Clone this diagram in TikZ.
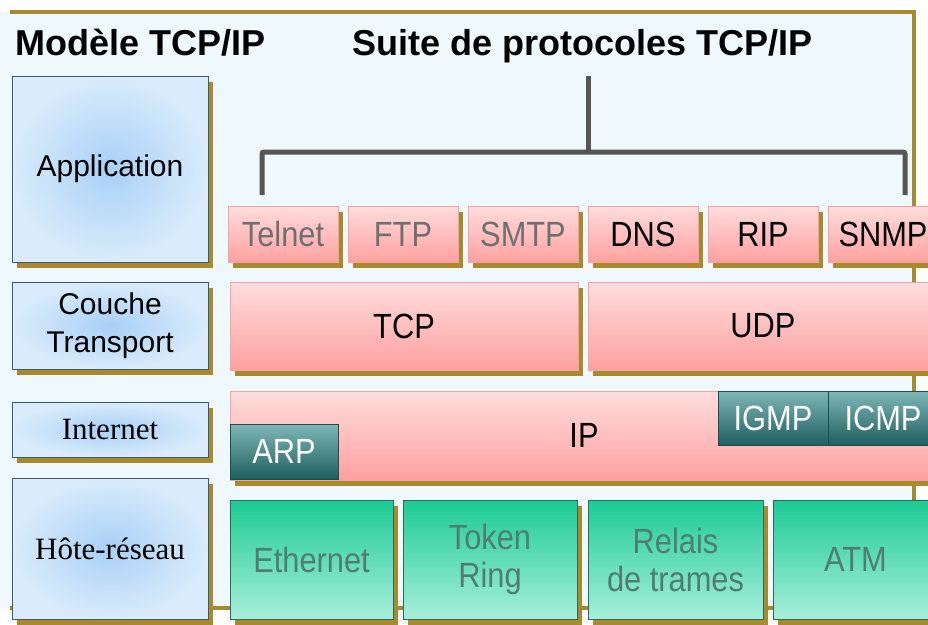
\documentclass[tikz,border=0pt]{standalone}
\usepackage{fontspec}
\setmainfont{Liberation Sans}
\newfontfamily\boxfont{Liberation Sans}[FakeStretch=0.88]
\newfontfamily\romanfont{Liberation Serif}
\usetikzlibrary{shadows}

\definecolor{framegold}{HTML}{A68A30}
\definecolor{shadowgold}{HTML}{A88A2C}
\definecolor{paneback}{HTML}{EFF8FC}
\definecolor{layerline}{HTML}{3D5A75}
\definecolor{layerin}{HTML}{A8D0F7}
\definecolor{layerout}{HTML}{DAECFB}
\definecolor{pinktop}{HTML}{FFDDDD}
\definecolor{pinkbot}{HTML}{FFA0A0}
\definecolor{pinkline}{HTML}{EFA5A5}
\definecolor{tealtop}{HTML}{80B7B7}
\definecolor{tealbot}{HTML}{1E5F5F}
\definecolor{tealline}{HTML}{1B4E4E}
\definecolor{greentop}{HTML}{1CCB94}
\definecolor{greenbot}{HTML}{A8EFDB}
\definecolor{greenline}{HTML}{2B6B5D}
\definecolor{greentext}{HTML}{4F7D72}
\definecolor{fadedtext}{HTML}{6F6F6F}
\definecolor{bracketgray}{HTML}{555555}

\tikzset{
  shadowed/.style={general shadow={fill=shadowgold, shadow xshift=5pt, shadow yshift=-6pt}},
  dims/.style 2 args={minimum width=#1pt, minimum height=#2pt, inner sep=0pt},
  layer/.style={shadowed, draw=layerline, line width=1pt, inner color=layerin, outer color=layerout,
    align=center, font=\fontsize{30}{38}\selectfont},
  proto/.style={shadowed, draw=pinkline, line width=0.8pt, top color=pinktop, bottom color=pinkbot,
    font=\boxfont\fontsize{35}{38}\selectfont},
  aux/.style={draw=tealline, line width=0.8pt, top color=tealtop, bottom color=tealbot, text=white,
    font=\boxfont\fontsize{35}{38}\selectfont},
  link/.style={shadowed, draw=greenline, line width=1pt, top color=greentop, bottom color=greenbot,
    text=greentext, align=center, font=\boxfont\fontsize{35}{38}\selectfont},
  heading/.style={anchor=base west, inner sep=0pt, font=\bfseries\fontsize{36}{40}\selectfont},
  bracket/.style={draw=bracketgray, line width=5pt, rounded corners=2pt},
}

\begin{document}
\begin{tikzpicture}[x=1pt, y=-1pt]
  \clip (0,0) rectangle (928,624);
  \fill[white] (0,0) rectangle (928,624);
  \fill[paneback] (0,12) rectangle (914,608);
  \draw[framegold, line width=4pt] (10,12) -- (914,12) -- (914,608) -- (10,608);

  % titres
  \node[heading] (modele) at (15,55) {Modèle TCP/IP};
  \node[heading] (suite) at (352,55) {Suite de protocoles TCP/IP};

  % couches du modele
  \node[layer, dims={196}{186}] (app) at (110,169) {Application};
  \node[layer, dims={196}{87}] (transp) at (110,325.5) {Couche\\Transport};
  \node[layer, dims={196}{55}, font=\romanfont\fontsize{31}{36}\selectfont] (inet) at (110,429.5) {Internet};
  \node[layer, dims={196}{141}, font=\romanfont\fontsize{31}{36}\selectfont] (host) at (110,548.5) {Hôte-réseau};

  % accolade
  \coordinate (stem) at (588,76);
  \coordinate (bar) at (588,152);
  \coordinate (bl) at (262,195);
  \coordinate (br) at (905,195);
  \draw[bracket] (stem) -- (bar);
  \draw[bracket] (bl) |- (bar) -| (br);

  % application
  \node[proto, dims={110}{56}, text=fadedtext] (telnet) at (283,234) {Telnet};
  \node[proto, dims={110}{56}, text=fadedtext] (ftp) at (403,234) {FTP};
  \node[proto, dims={110}{56}, text=fadedtext] (smtp) at (523,234) {SMTP};
  \node[proto, dims={110}{56}] (dns) at (643,234) {DNS};
  \node[proto, dims={110}{56}] (rip) at (763,234) {RIP};
  \node[proto, dims={110}{56}] (snmp) at (883,234) {SNMP};

  % transport
  \node[proto, dims={348}{88}] (tcp) at (404,326) {TCP};
  \node[proto, dims={350}{88}] (udp) at (763,326) {UDP};

  % internet
  \node[proto, dims={708}{89}] (ip) at (584,435.5) {IP};
  \node[aux, dims={108}{55}] (arp) at (284,451.5) {ARP};
  \node[aux, dims={110}{54}] (igmp) at (773,418) {IGMP};
  \node[aux, dims={110}{54}] (icmp) at (883,418) {ICMP};

  % hote-reseau
  \node[link, dims={163}{119}] (eth) at (311.5,559.5) {Ethernet};
  \node[link, dims={174}{119}] (token) at (490,559.5) {Token\\Ring};
  \node[link, dims={175}{119}] (relais) at (675.5,559.5) {Relais\\de trames};
  \node[link, dims={165}{119}] (atm) at (855.5,559.5) {ATM};
\end{tikzpicture}
\end{document}
